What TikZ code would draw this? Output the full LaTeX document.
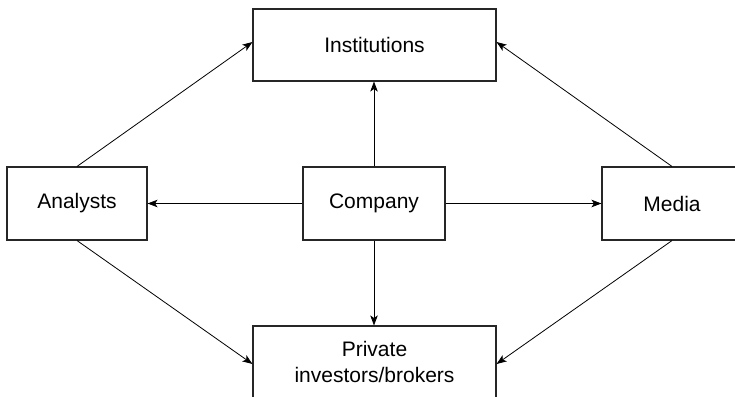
\documentclass[tikz,border=0pt]{standalone}
\usepackage{fontspec}
\setmainfont{Liberation Sans}
\usetikzlibrary{arrows.meta}
\begin{document}
\begin{tikzpicture}[x=1pt,y=-1pt,
  box/.style={draw=black!85,line width=1.1pt,fill=white,inner sep=0pt,align=center,
    font=\fontsize{21}{26}\selectfont},
  conn/.style={line width=0.8pt,-{Stealth[length=10pt,width=7.5pt,inset=2.5pt]}}]
\clip (0,0) rectangle (735,396);
\fill[white] (0,0) rectangle (735,396);
\node[box,minimum width=243pt,minimum height=72pt] (inst) at (374.5,45) {Institutions};
\node[box,minimum width=243pt,minimum height=72pt] (priv) at (374.5,362) {Private\\investors/brokers};
\node[box,minimum width=140pt,minimum height=73pt] (anal) at (77,203.5) {Analysts};
\node[box,minimum width=142pt,minimum height=73pt] (comp) at (374,203.5) {Company};
\node[box,minimum width=140pt,minimum height=73pt] (media) at (672,203.5) {Media};
\draw[conn] (anal.north) -- ([yshift=3pt]inst.west);
\draw[conn] (media.north) -- ([yshift=3pt]inst.east);
\draw[conn] (anal.south) -- ([yshift=-2pt]priv.west);
\draw[conn] (media.south) -- ([yshift=-2pt]priv.east);
\draw[conn] (comp.north) -- (comp.north |- inst.south);
\draw[conn] (comp.south) -- (comp.south |- priv.north);
\draw[conn] (comp.west) -- (anal.east);
\draw[conn] (comp.east) -- (media.west);
\end{tikzpicture}
\end{document}
